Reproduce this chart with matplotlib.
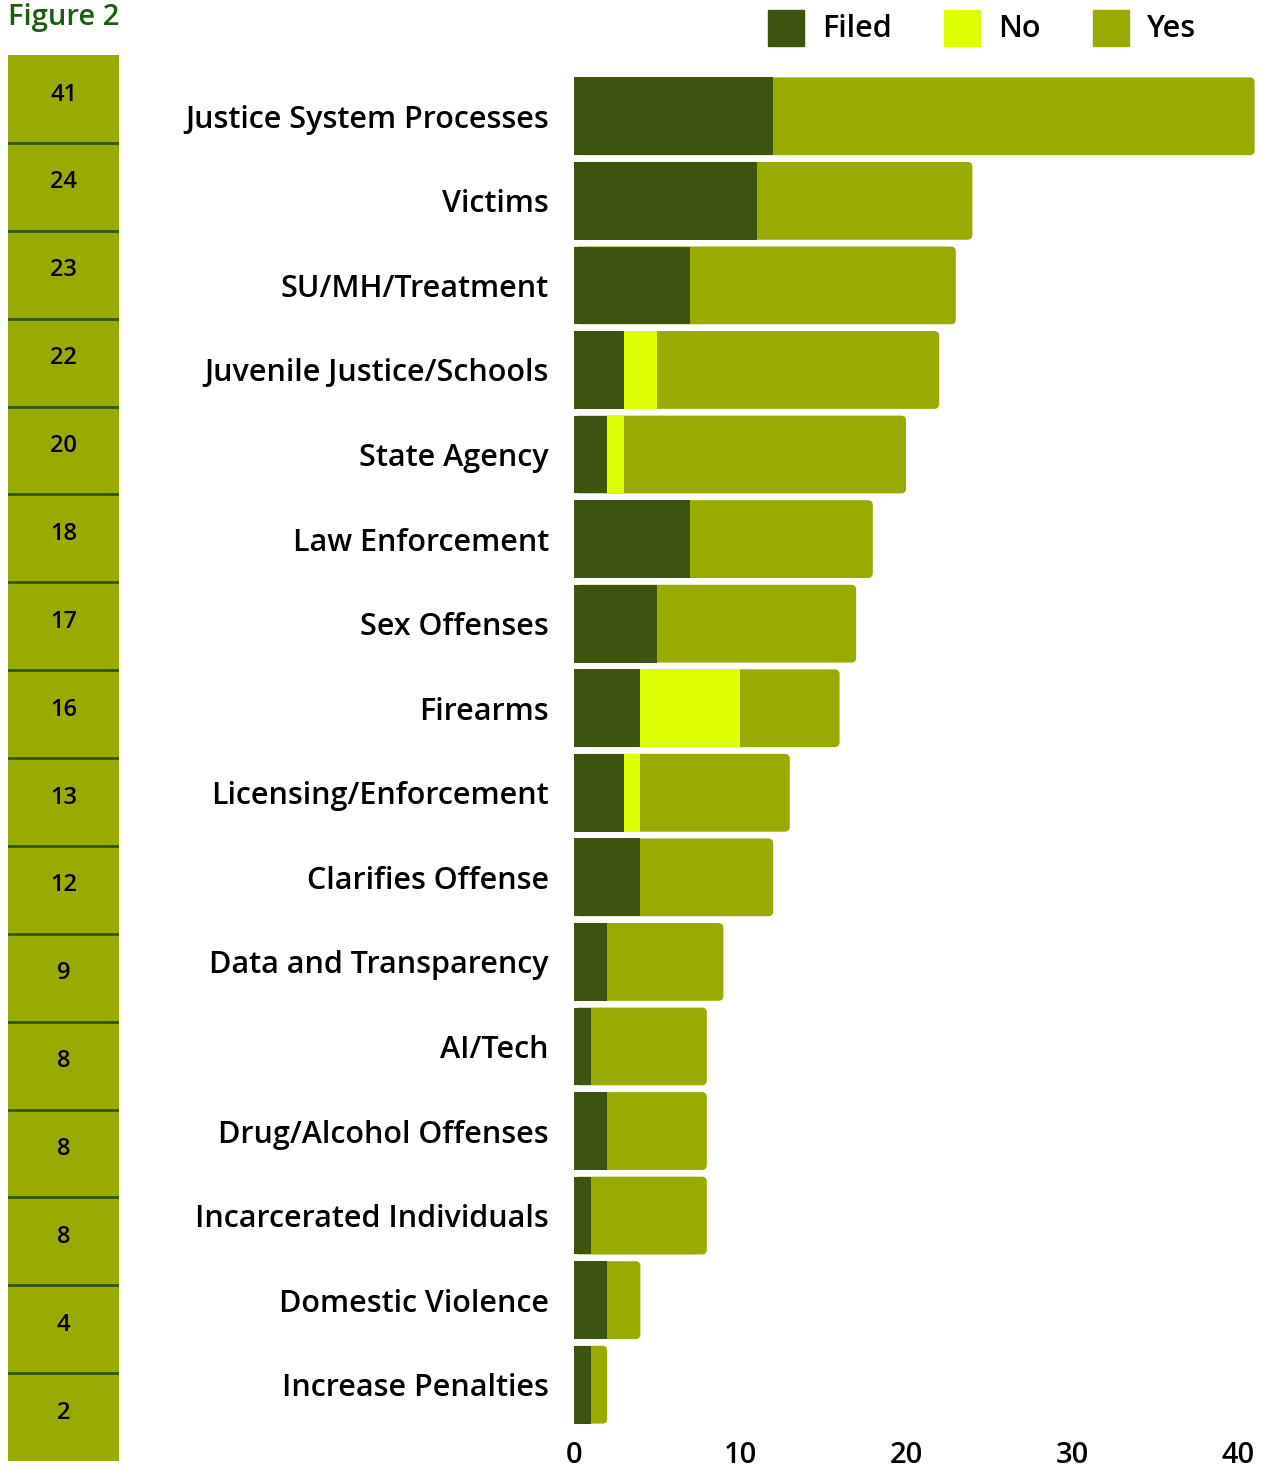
import matplotlib
matplotlib.use("Agg")
import matplotlib.pyplot as plt
from matplotlib.patches import Rectangle, FancyBboxPatch
import numpy as np

categories = ["Justice System Processes", "Victims", "SU/MH/Treatment",
              "Juvenile Justice/Schools", "State Agency", "Law Enforcement",
              "Sex Offenses", "Firearms", "Licensing/Enforcement",
              "Clarifies Offense", "Data and Transparency", "AI/Tech",
              "Drug/Alcohol Offenses", "Incarcerated Individuals",
              "Domestic Violence", "Increase Penalties"]
filed = [12, 11, 7, 3, 2, 7, 5, 4, 3, 4, 2, 1, 2, 1, 2, 1]
no = [0, 0, 0, 2, 1, 0, 0, 6, 1, 0, 0, 0, 0, 0, 0, 0]
yes = [29, 13, 16, 17, 17, 11, 12, 6, 9, 8, 7, 7, 6, 7, 2, 1]
totals = [41, 24, 23, 22, 20, 18, 17, 16, 13, 12, 9, 8, 8, 8, 4, 2]
series_names = ["Filed", "No", "Yes"]
series_colors = ["#3d5410", "#ddff00", "#99aa00"]
xticks = [0, 10, 20, 30, 40]

FONT = ["Open Sans", "DejaVu Sans"]
plt.rcParams['font.family'] = FONT

W, H = 1266, 1469
fig = plt.figure(figsize=(W / 100, H / 100), dpi=100)

def fx(px):
    return px / W

def fy(py):
    return 1 - py / H

# main bar axes
ax_left, ax_right, ax_top, ax_bot = 574, 1263, 74, 1427
ax = fig.add_axes([fx(ax_left), fy(ax_bot), fx(ax_right - ax_left), (ax_bot - ax_top) / H])
y = np.arange(len(categories))
f = np.array(filed); n = np.array(no); ys = np.array(yes)
bh = 0.92
ax.barh(y, f, height=bh, color=series_colors[0], label=series_names[0], zorder=3)
ax.barh(y, n, left=f, height=bh, color=series_colors[1], label=series_names[1], zorder=3)
yes_bars = ax.barh(y, ys, left=f + n, height=bh, color=series_colors[2],
                   label=series_names[2], zorder=2)
ax.set_ylim(len(categories) - 0.5, -0.5)
ax.set_xlim(0, (ax_right - ax_left) / 16.6)
# rounded end of each bar (in yes colour, spanning the full total)
rx = 0.3
for rect in yes_bars:
    rect.set_visible(False)
    total = rect.get_x() + rect.get_width()
    p = FancyBboxPatch((0, rect.get_y()), total, rect.get_height(),
                       boxstyle=f"round,pad=0,rounding_size={rx}",
                       mutation_aspect=16.6 / 84.6,
                       facecolor=series_colors[2], edgecolor='none', zorder=2)
    ax.add_patch(p)
ax.set_yticks(y)
ax.set_yticklabels(categories, fontsize=22, fontweight='semibold')
ax.set_xticks(xticks)
ax.set_xticklabels([str(t) for t in xticks], fontsize=21, fontweight='semibold')
ax.tick_params(axis='y', length=0, pad=18)
ax.tick_params(axis='x', length=0, pad=10)
for s in ax.spines.values():
    s.set_visible(False)

# left totals column
bx_left, bx_right, bx_top, bx_bot = 8, 119, 55, 1461
ax2 = fig.add_axes([fx(bx_left), fy(bx_bot), fx(bx_right - bx_left), (bx_bot - bx_top) / H])
ax2.set_xlim(0, 1)
ax2.set_ylim(len(totals), 0)
ax2.set_facecolor("#99aa00")
for i, t in enumerate(totals):
    ax2.text(0.5, i + 0.45, str(t), ha='center', va='center', fontsize=17,
             fontweight='semibold', color='black')
    if i > 0:
        ax2.axhline(i, color="#2d5a10", lw=2)
ax2.set_xticks([]); ax2.set_yticks([])
for s in ax2.spines.values():
    s.set_visible(False)

# title
fig.text(fx(8), fy(25), "Figure 2", fontsize=21, fontweight='semibold',
         color="#1f5c13", ha='left', va='baseline')

# legend
leg_x = [768, 944, 1093]
for name, col, lx in zip(series_names, series_colors, leg_x):
    fig.patches.append(Rectangle((fx(lx), fy(46)), fx(36), 36 / H, color=col,
                                 transform=fig.transFigure, figure=fig))
    fig.text(fx(lx + 54), fy(29), name, fontsize=22, fontweight='semibold',
             ha='left', va='center', color='black')

fig.savefig("out.png", dpi=100)
